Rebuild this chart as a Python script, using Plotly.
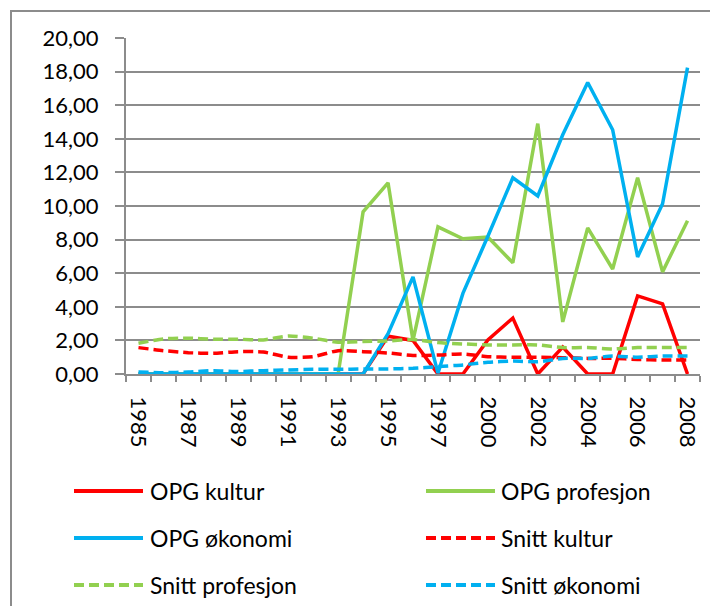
import plotly.graph_objects as go

years = ["1985", "1986", "1987", "1988", "1989", "1990", "1991", "1992",
         "1993", "1994", "1995", "1996", "1997", "1999", "2000", "2001",
         "2002", "2003", "2004", "2005", "2006", "2007", "2008"]

opg_kultur = [0, 0, 0, 0, 0, 0, 0, 0, 0, 0, 2.25, 2.0, 0, 0, 2.03, 3.33,
              0, 1.6, 0, 0, 4.65, 4.17, 0]
opg_profesjon = [0, 0, 0, 0, 0, 0, 0, 0, 0, 9.65, 11.38, 2.0, 8.76, 8.05,
                 8.15, 6.62, 14.9, 3.1, 8.7, 6.25, 11.68, 6.08, 9.12]
opg_okonomi = [0, 0, 0, 0, 0, 0, 0, 0, 0, 0, 2.4, 5.78, 0.05, 4.8, 8.2,
               11.68, 10.6, 14.24, 17.35, 14.54, 6.97, 10.13, 18.24]
snitt_kultur = [1.57, 1.39, 1.27, 1.23, 1.33, 1.31, 1.0, 1.03, 1.39, 1.33,
                1.25, 1.1, 1.13, 1.19, 1.03, 1.0, 1.0, 0.97, 0.93, 0.93,
                0.87, 0.83, 0.83]
snitt_profesjon = [1.83, 2.09, 2.13, 2.07, 2.07, 2.03, 2.26, 2.13, 1.89,
                   1.93, 1.97, 2.05, 1.87, 1.79, 1.73, 1.73, 1.73, 1.57,
                   1.57, 1.49, 1.57, 1.57, 1.57]
snitt_okonomi = [0.12, 0.08, 0.12, 0.2, 0.15, 0.2, 0.24, 0.28, 0.28, 0.3,
                 0.3, 0.34, 0.44, 0.54, 0.7, 0.77, 0.73, 0.93, 0.93, 1.07,
                 1.0, 1.07, 1.07]

names = ["OPG kultur", "OPG profesjon", "OPG økonomi",
         "Snitt kultur", "Snitt profesjon", "Snitt økonomi"]

RED, GREEN, BLUE = "#FF0000", "#92D050", "#00B0F0"
GRAY = "#8c8c8c"
FONT = "Lato"

# the page body has an 8px margin, so the figure is 8px smaller each way
# and reference pixel positions are shifted by -8
OFF = 8
W_FIG, H_FIG = 718 - OFF, 606 - OFF
L, T = 126 - OFF, 38 - OFF
R = W_FIG - (700 - OFF)
B = H_FIG - (374 - OFF)
PW = W_FIG - L - R
PH = H_FIG - T - B


def px_x(x):
    return (x - OFF - L) / PW


def px_y(y):
    return (T + PH - (y - OFF)) / PH


idx = list(range(len(years)))

series = [
    (names[0], opg_kultur, RED, "solid"),
    (names[1], opg_profesjon, GREEN, "solid"),
    (names[2], opg_okonomi, BLUE, "solid"),
    (names[3], snitt_kultur, RED, "dash"),
    (names[4], snitt_profesjon, GREEN, "dash"),
    (names[5], snitt_okonomi, BLUE, "dash"),
]

fig = go.Figure()
for name, vals, col, style in series:
    if style == "solid":
        line = dict(color=col, width=3.5)
    else:
        line = dict(color=col, width=3.5, dash="10px,5px", shape="spline", smoothing=0.6)
    fig.add_trace(go.Scatter(x=idx, y=vals, mode="lines", name=name, line=line))

fig.update_layout(
    width=W_FIG, height=H_FIG,
    margin=dict(l=L, r=R, t=T, b=B),
    paper_bgcolor="white", plot_bgcolor="white",
    showlegend=False,
    separators=", ",
    font=dict(family=FONT, size=22, color="black"),
)

fig.update_xaxes(
    range=[-0.5, len(years) - 0.5],
    tickvals=idx[::2], ticktext=years[::2],
    tickangle=90, ticks="", ticklabelstandoff=16,
    showgrid=False, zeroline=False,
    showline=True, linecolor=GRAY, linewidth=2,
    minor=dict(tickvals=[i - 0.5 for i in range(len(years) + 1)],
               ticks="outside", ticklen=6, tickcolor=GRAY, tickwidth=2),
)
fig.update_yaxes(
    range=[0, 20], dtick=2, tickformat=".2f",
    showgrid=True, gridcolor=GRAY, gridwidth=1.5,
    zeroline=False,
    showline=True, linecolor=GRAY, linewidth=2,
    ticks="outside", ticklen=9, tickcolor=GRAY, tickwidth=2,
    ticklabelstandoff=12,
)

# chart area border
fig.add_shape(type="rect", xref="paper", yref="paper",
              x0=px_x(11), x1=px_x(716), y0=px_y(640), y1=px_y(11),
              line=dict(color=GRAY, width=2))

# legend, laid out like the spreadsheet's two-column legend
cols = [(74, 143, 148), (426, 495, 499)]
rows = [491, 538, 585]
for i, (name, vals, col, style) in enumerate(series):
    x0, x1, xt = cols[i % 2]
    y = rows[i // 2]
    fig.add_shape(type="line", xref="paper", yref="paper",
                  x0=px_x(x0), x1=px_x(x1), y0=px_y(y), y1=px_y(y),
                  line=dict(color=col, width=4,
                            dash="solid" if style == "solid" else "10px,5px"))
    fig.add_annotation(xref="paper", yref="paper", x=px_x(xt), y=px_y(y),
                       text=name, showarrow=False, xanchor="left",
                       yanchor="middle", font=dict(family=FONT, size=23))

fig.write_html("out.html")
